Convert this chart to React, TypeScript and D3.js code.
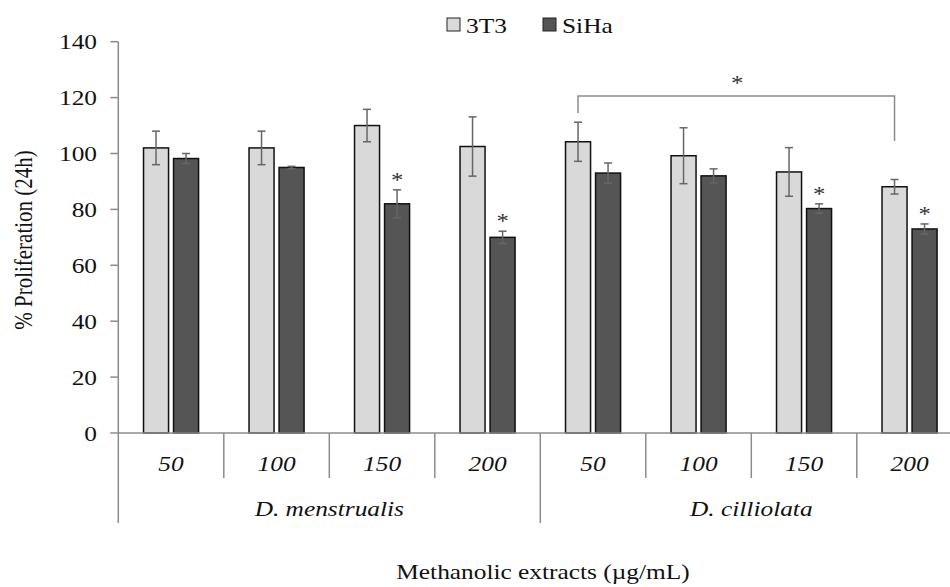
import React from 'react';
import * as d3 from 'd3';

const species = ['D. menstrualis', 'D. cilliolata'];
const doses = ['50', '100', '150', '200'];
const series = ['3T3', 'SiHa'];
const values3T3 = [102, 102, 110, 102.5, 104.2, 99.2, 93.4, 88.1];
const err3T3 = [6, 6, 5.8, 10.6, 7, 10, 8.7, 2.6];
const valuesSiHa = [98.2, 95, 82, 70, 93, 92, 80.3, 73];
const errSiHa = [1.8, 0.4, 5, 2.2, 3.6, 2.5, 1.7, 1.8];
const starsSiHa = [false, false, true, true, false, false, true, true];
const yTicks = [0, 20, 40, 60, 80, 100, 120, 140];

const colors = { '3T3': '#d9d9d9', SiHa: '#555555' };
const axisColor = '#8c8c8c';
const txt = { fontFamily: "'Liberation Serif'" };
const stretch = 1.18; // the picture is a bit wider than tall, glyphs too

// text drawn with the same horizontal stretch as the reference
function T({ x, y, anchor = 'middle', size = 21.5, italic = false, fill = '#111', rotate = 0, children }) {
    return (
        <g transform={`translate(${x},${y}) scale(${stretch},1)${rotate ? ` rotate(${rotate})` : ''}`}>
            <text x={0} y={0} textAnchor={anchor} fontSize={size} fontStyle={italic ? 'italic' : 'normal'}
                fill={fill} style={txt}>{children}</text>
        </g>
    );
}

export default function App() {
    const width = 950;
    const height = 587;
    const left = 118.3;
    const step = 105.5;
    const bottom = 433;

    const cats = species.flatMap((s) => doses.map((d) => `${s}|${d}`));
    const x = d3.scaleBand().domain(cats).range([left, left + step * cats.length]);
    const inner = d3.scaleBand().domain(series).range([0, x.bandwidth()])
        .paddingInner(1 / 6).paddingOuter(0.84);
    const y = d3.scaleLinear().domain([0, 140]).range([bottom, 41.7]);

    const data = cats.map((c, i) => ({
        key: c,
        rows: [
            { s: '3T3', v: values3T3[i], e: err3T3[i], star: false },
            { s: 'SiHa', v: valuesSiHa[i], e: errSiHa[i], star: starsSiHa[i] },
        ],
    }));

    const capW = 4;
    const bx1 = (x(cats[4]) ?? 0) + (inner('3T3') ?? 0) + inner.bandwidth() / 2;
    const bx2 = (x(cats[7]) ?? 0) + (inner('3T3') ?? 0) + inner.bandwidth() / 2;
    const bracketY = 96;

    return (
        <svg width={width} height={height} style={{ position: 'absolute', left: 0, top: 0, background: '#fff' }}>
            {/* y axis */}
            <line x1={left} x2={left} y1={y(140)} y2={bottom} stroke={axisColor} strokeWidth={1.5} />
            {yTicks.map((t) => (
                <g key={t}>
                    <line x1={left - 8} x2={left} y1={y(t)} y2={y(t)} stroke={axisColor} strokeWidth={1.5} />
                    <T x={97} y={y(t) + 7.5} anchor="end">{t}</T>
                </g>
            ))}
            <T x={32} y={240} rotate={-90} size={21}>% Proliferation (24h)</T>

            {/* bars */}
            {data.map((d) => (
                <g key={d.key} transform={`translate(${x(d.key)},0)`}>
                    {d.rows.map((r) => {
                        const bx = inner(r.s) ?? 0;
                        const cx = bx + inner.bandwidth() / 2;
                        return (
                            <g key={r.s}>
                                <rect x={bx} y={y(r.v)} width={inner.bandwidth()} height={bottom - y(r.v)}
                                    fill={colors[r.s]} stroke="#111" strokeWidth={1.5} />
                                <line x1={cx} x2={cx} y1={y(r.v + r.e)} y2={y(r.v - r.e)} stroke="#666" strokeWidth={1.5} />
                                <line x1={cx - capW} x2={cx + capW} y1={y(r.v + r.e)} y2={y(r.v + r.e)} stroke="#666" strokeWidth={1.5} />
                                <line x1={cx - capW} x2={cx + capW} y1={y(r.v - r.e)} y2={y(r.v - r.e)} stroke="#666" strokeWidth={1.5} />
                                {r.star && (
                                    <T x={cx} y={y(r.v + r.e) - 3} size={21} fill="#333">*</T>
                                )}
                            </g>
                        );
                    })}
                </g>
            ))}

            {/* bracket */}
            <path d={`M${bx1},${bracketY + 17} V${bracketY} H${bx2} V${bracketY + 45}`} fill="none"
                stroke={axisColor} strokeWidth={1.5} />
            <T x={(bx1 + bx2) / 2 + 1} y={bracketY - 6} size={21} fill="#333">*</T>

            {/* x axis */}
            <line x1={left} x2={left + step * cats.length} y1={bottom} y2={bottom} stroke={axisColor} strokeWidth={1.5} />
            {cats.map((c, i) => (
                <g key={c}>
                    <line x1={x(c)} x2={x(c)} y1={bottom} y2={i % 4 === 0 ? 523 : 478} stroke={axisColor} strokeWidth={1.5} />
                    <T x={(x(c) ?? 0) + x.bandwidth() / 2} y={471} italic>{c.split('|')[1]}</T>
                </g>
            ))}
            <line x1={left + step * 8} x2={left + step * 8} y1={bottom} y2={523} stroke={axisColor} strokeWidth={1.5} />
            {species.map((s, i) => (
                <T key={s} x={(x(cats[i * 4]) ?? 0) + step * 2} y={516} italic>{s}</T>
            ))}
            <T x={543} y={579}>Methanolic extracts (µg/mL)</T>

            {/* legend */}
            {series.map((s, i) => (
                <g key={s} transform={`translate(${i === 0 ? 447 : 543},18)`}>
                    <rect x={0} y={0} width={13} height={13} fill={colors[s]} stroke="#222" strokeWidth={1} />
                    <T x={19} y={15} anchor="start">{s}</T>
                </g>
            ))}
        </svg>
    );
}
